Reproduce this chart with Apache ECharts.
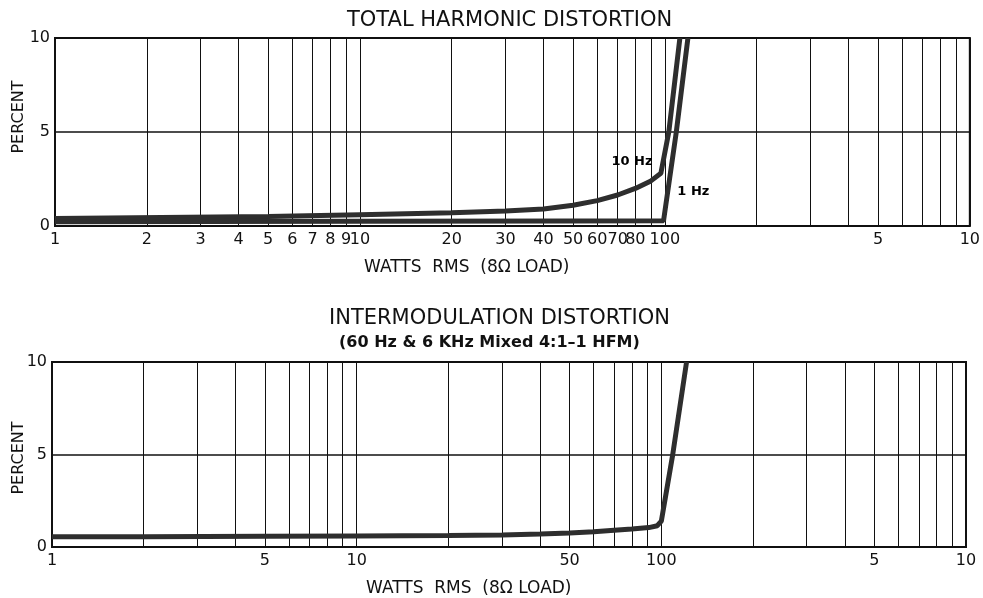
<!DOCTYPE html>
<html>
<head>
<meta charset="utf-8">
<script src="https://cdn.jsdelivr.net/npm/echarts@6/dist/echarts.min.js"></script>
<style>
html,body{margin:0;padding:0;background:#fff;}
#c{width:983px;height:598px;}
</style>
</head>
<body>
<div id="c"></div>
<script>
// ---- data ----
const gridTicks = [1,2,3,4,5,6,7,8,9,10,20,30,40,50,60,70,80,90,100,200,300,400,500,600,700,800,900,1000];
const thdTickLabels = [1,2,3,4,5,6,7,8,9,10,20,30,40,50,60,70,80,100,500,1000];
const imdTickLabels = [1,5,10,50,100,500,1000];

const thd10HzWatts = [1, 5, 10, 20, 30, 40, 50, 60, 70, 80, 90, 97, 103, 112];
const thd10HzPct   = [0.4, 0.5, 0.6, 0.7, 0.8, 0.9, 1.1, 1.35, 1.65, 2.0, 2.4, 2.8, 5, 10];

const thd1HzWatts = [1, 10, 50, 99, 100, 109, 119];
const thd1HzPct   = [0.22, 0.25, 0.27, 0.28, 0.35, 5, 10];

const imdWatts = [1, 2, 5, 10, 20, 30, 40, 50, 60, 70, 80, 91, 97, 100, 109, 121];
const imdPct   = [0.55, 0.56, 0.58, 0.6, 0.62, 0.65, 0.7, 0.76, 0.82, 0.9, 0.97, 1.05, 1.15, 1.4, 5, 10];

const label10Hz = [78, 3.45];
const label1Hz = [124, 1.85];

// ---- helpers ----
const FONT = 'DejaVu Sans';
const zip = (xs, ys) => xs.map((x, i) => [x, ys[i]]);
const fmtWatts = v => (v >= 500 ? String(v / 100) : String(v));

function xAxisFor(gridIndex, labels) {
  return {
    type: 'log', logBase: 10, min: 1, max: 1000, gridIndex,
    axisLine: { show: false },
    axisTick: { show: false, customValues: gridTicks },
    splitLine: { show: true, lineStyle: { color: '#111', width: 1 } },
    minorSplitLine: { show: false },
    axisLabel: {
      customValues: labels, formatter: v => fmtWatts(v),
      color: '#111', fontFamily: FONT, fontSize: 16, margin: 6
    }
  };
}
function yAxisFor(gridIndex) {
  return {
    type: 'value', min: 0, max: 10, interval: 5, gridIndex,
    axisLine: { show: false }, axisTick: { show: false },
    splitLine: { show: true, lineStyle: { color: '#111', width: 1.5 } },
    axisLabel: { color: '#111', fontFamily: FONT, fontSize: 16, margin: 5 }
  };
}
const lineStyle = { color: '#2e2e2e', width: 5 };
function labelPoint(coord, text) {
  return {
    coord, symbol: 'circle', symbolSize: 1,
    itemStyle: { color: 'transparent' },
    label: { show: true, position: 'inside', formatter: text, color: '#000',
      fontFamily: FONT, fontWeight: 'bold', fontSize: 13 }
  };
}

const chart = echarts.init(document.getElementById('c'), null, { renderer: 'canvas' });
chart.setOption({
  backgroundColor: '#fff',
  animation: false,
  title: [
    { text: 'TOTAL HARMONIC DISTORTION', left: 342, top: 5,
      textStyle: { fontFamily: FONT, fontSize: 21, fontWeight: 'normal', color: '#111' } },
    { text: 'WATTS  RMS  (8\u03A9 LOAD)', left: 359, top: 254,
      textStyle: { fontFamily: FONT, fontSize: 17, fontWeight: 'normal', color: '#111' } },
    { text: 'INTERMODULATION DISTORTION', left: 324, top: 303,
      textStyle: { fontFamily: FONT, fontSize: 21, fontWeight: 'normal', color: '#111' } },
    { text: '(60 Hz & 6 KHz Mixed 4:1\u20131 HFM)', left: 334, top: 330,
      textStyle: { fontFamily: FONT, fontSize: 16, fontWeight: 'bold', color: '#111' } },
    { text: 'WATTS  RMS  (8\u03A9 LOAD)', left: 361, top: 575,
      textStyle: { fontFamily: FONT, fontSize: 17, fontWeight: 'normal', color: '#111' } }
  ],
  graphic: [
    { type: 'text', x: 19, y: 117, rotation: Math.PI / 2,
      style: { text: 'PERCENT', fill: '#111', font: '16px "DejaVu Sans"', align: 'center', verticalAlign: 'middle' } },
    { type: 'text', x: 19, y: 458, rotation: Math.PI / 2,
      style: { text: 'PERCENT', fill: '#111', font: '16px "DejaVu Sans"', align: 'center', verticalAlign: 'middle' } }
  ],
  grid: [
    { left: 55, right: 13, top: 38, height: 188, show: true, borderColor: '#111', borderWidth: 2, backgroundColor: 'transparent' },
    { left: 52, right: 17, top: 362, height: 185, show: true, borderColor: '#111', borderWidth: 2, backgroundColor: 'transparent' }
  ],
  xAxis: [xAxisFor(0, thdTickLabels), xAxisFor(1, imdTickLabels)],
  yAxis: [yAxisFor(0), yAxisFor(1)],
  series: [
    { type: 'line', name: '10 Hz', xAxisIndex: 0, yAxisIndex: 0, data: zip(thd10HzWatts, thd10HzPct),
      showSymbol: false, symbol: 'none', lineStyle,
      markPoint: { data: [labelPoint(label10Hz, '10 Hz')] } },
    { type: 'line', name: '1 Hz', xAxisIndex: 0, yAxisIndex: 0, data: zip(thd1HzWatts, thd1HzPct),
      showSymbol: false, symbol: 'none', lineStyle,
      markPoint: { data: [labelPoint(label1Hz, '1 Hz')] } },
    { type: 'line', name: 'IMD', xAxisIndex: 1, yAxisIndex: 1, data: zip(imdWatts, imdPct),
      showSymbol: false, symbol: 'none', lineStyle }
  ]
});
</script>
</body>
</html>
